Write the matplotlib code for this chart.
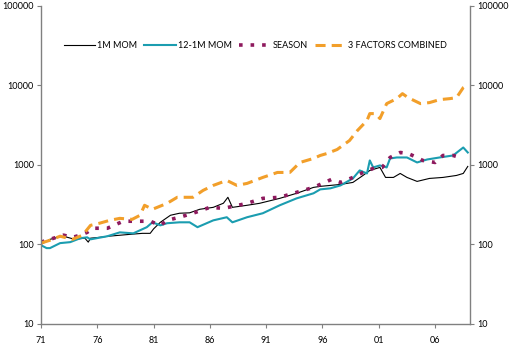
import matplotlib
matplotlib.use("Agg")
import matplotlib.pyplot as plt
from matplotlib.ticker import FixedLocator, NullLocator

plt.rcParams['font.family'] = ['Lato', 'DejaVu Sans']

# values (index, log scale)
mom1_years = [1971.0, 1971.8, 1972.7, 1973.0, 1974.0, 1974.9, 1975.2, 1975.4, 1976.2, 1977.0,
              1978.9, 1980.0, 1980.7, 1981.0, 1981.6, 1982.5, 1983.3, 1984.2, 1985.1, 1986.3,
              1987.2, 1987.6, 1988.0, 1989.3, 1990.4, 1992.2, 1993.7, 1995.2, 1995.8, 1996.7,
              1997.6, 1998.7, 1999.6, 2000.2, 2001.1, 2001.6, 2002.3, 2002.9, 2003.5, 2004.4,
              2005.5, 2006.7, 2007.9, 2008.5, 2008.9]
mom1 = [100, 116, 125, 127, 116, 120, 107, 120, 123, 127,
        134, 138, 138, 157, 190, 233, 247, 250, 277, 293,
        330, 392, 293, 311, 329, 380, 440, 522, 538, 553,
        569, 603, 738, 853, 931, 697, 697, 782, 697, 621,
        677, 697, 738, 782, 958]

mom12_years = [1971.0, 1971.5, 1971.8, 1972.7, 1973.6, 1974.5, 1975.1, 1975.4, 1976.9, 1978.0,
               1979.2, 1980.4, 1980.9, 1981.6, 1982.2, 1983.3, 1984.2, 1984.9, 1986.3, 1987.5,
               1988.0, 1989.3, 1990.7, 1992.2, 1993.7, 1995.2, 1995.8, 1996.7, 1997.6, 1998.7,
               1999.3, 1999.95, 2000.2, 2000.5, 2001.1, 2001.7, 2002.0, 2002.6, 2003.5, 2004.4,
               2005.3, 2006.4, 2007.6, 2008.5, 2008.9]
mom12 = [98, 90, 90, 104, 107, 120, 123, 116, 127, 142,
         138, 165, 190, 174, 185, 190, 190, 165, 201, 220,
         190, 220, 247, 311, 380, 440, 493, 508, 553, 677,
         853, 782, 1139, 931, 986, 931, 1207, 1242, 1242, 1075,
         1172, 1242, 1316, 1657, 1435]

season_years = [1971.0, 1973.0, 1973.8, 1974.5, 1975.1, 1975.6, 1976.9, 1978.3, 1979.8, 1980.7,
                1981.6, 1982.2, 1983.3, 1984.5, 1986.0, 1987.2, 1988.1, 1989.3, 1990.7, 1992.2,
                1993.7, 1995.2, 1996.0, 1996.8, 1997.6, 1998.7, 1999.6, 2000.5, 2001.3, 2002.0,
                2002.9, 2003.6, 2004.4, 2004.9, 2006.0, 2006.7, 2007.6, 2008.2]
season = [107, 131, 123, 131, 142, 160, 160, 196, 196, 196,
          174, 201, 220, 247, 293, 285, 302, 329, 380, 392,
          452, 522, 586, 658, 603, 697, 805, 904, 931, 1242,
          1435, 1394, 1242, 1139, 1075, 1316, 1316, 1242]

combo_years = [1971.0, 1971.8, 1972.7, 1973.8, 1974.7, 1975.4, 1976.2, 1977.1, 1978.0, 1979.1,
               1979.8, 1980.2, 1980.9, 1982.2, 1983.1, 1984.0, 1984.5, 1985.4, 1986.3, 1987.5,
               1988.4, 1989.3, 1990.7, 1992.0, 1993.1, 1994.0, 1995.2, 1995.8, 1996.4, 1997.3,
               1998.4, 1999.1, 1999.95, 2000.2, 2000.7, 2001.1, 2001.7, 2002.6, 2003.1, 2003.6,
               2004.7, 2005.5, 2006.4, 2007.3, 2007.9, 2008.5, 2008.9]
combo = [104, 113, 127, 116, 131, 174, 185, 201, 213, 207,
         233, 311, 277, 329, 392, 392, 392, 479, 553, 639,
         553, 586, 697, 805, 805, 1075, 1207, 1316, 1394, 1564,
         2028, 2708, 3617, 4424, 4424, 3831, 5907, 6822, 7880, 7023,
         5907, 6083, 6629, 6822, 7023, 9377, 10217]

year_ticks = [1971, 1976, 1981, 1986, 1991, 1996, 2001, 2006]
year_labels = ["71", "76", "81", "86", "91", "96", "01", "06"]
y_ticks = [10, 100, 1000, 10000, 100000]

fig = plt.figure(figsize=(5.12, 3.48), dpi=100)
ax = fig.add_axes([0.080, 0.069, 0.838, 0.914])

ax.plot(mom1_years, mom1, color="black", lw=0.8, label="1M MOM")
ax.plot(mom12_years, mom12, color="#1b9db0", lw=1.5, label="12-1M MOM")
ax.plot(season_years, season, color="#8e1a5e", lw=2.6, linestyle=(0, (1, 2.2)), label="SEASON")
ax.plot(combo_years, combo, color="#f29f2a", lw=2.2, linestyle=(0, (3.3, 2)), label="3 FACTORS COMBINED")

ax.set_yscale("log")
ax.set_ylim(10, 100000)
ax.set_xlim(1971, 2009.1)
ax.yaxis.set_major_locator(FixedLocator(y_ticks))
ax.yaxis.set_minor_locator(NullLocator())
ax.set_yticklabels([str(v) for v in y_ticks])
ax.set_xticks(year_ticks)
ax.set_xticklabels(year_labels)

grey = "#808080"
for side in ["left", "right", "bottom"]:
    ax.spines[side].set_color(grey)
    ax.spines[side].set_linewidth(1.0)
ax.spines["top"].set_visible(False)
ax.tick_params(axis="y", which="both", left=True, right=True, labelleft=True, labelright=True,
               direction="out", length=3, color=grey, labelsize=6.5, pad=2)
ax.tick_params(axis="x", direction="out", length=3, color=grey, labelsize=6.5, pad=6)

ax.legend(loc="center", bbox_to_anchor=(0.5, 0.875), ncol=4, frameon=False,
          fontsize=6.5, handlelength=3.5, columnspacing=0.8, handletextpad=0.2)

fig.savefig("out.png", dpi=100)
